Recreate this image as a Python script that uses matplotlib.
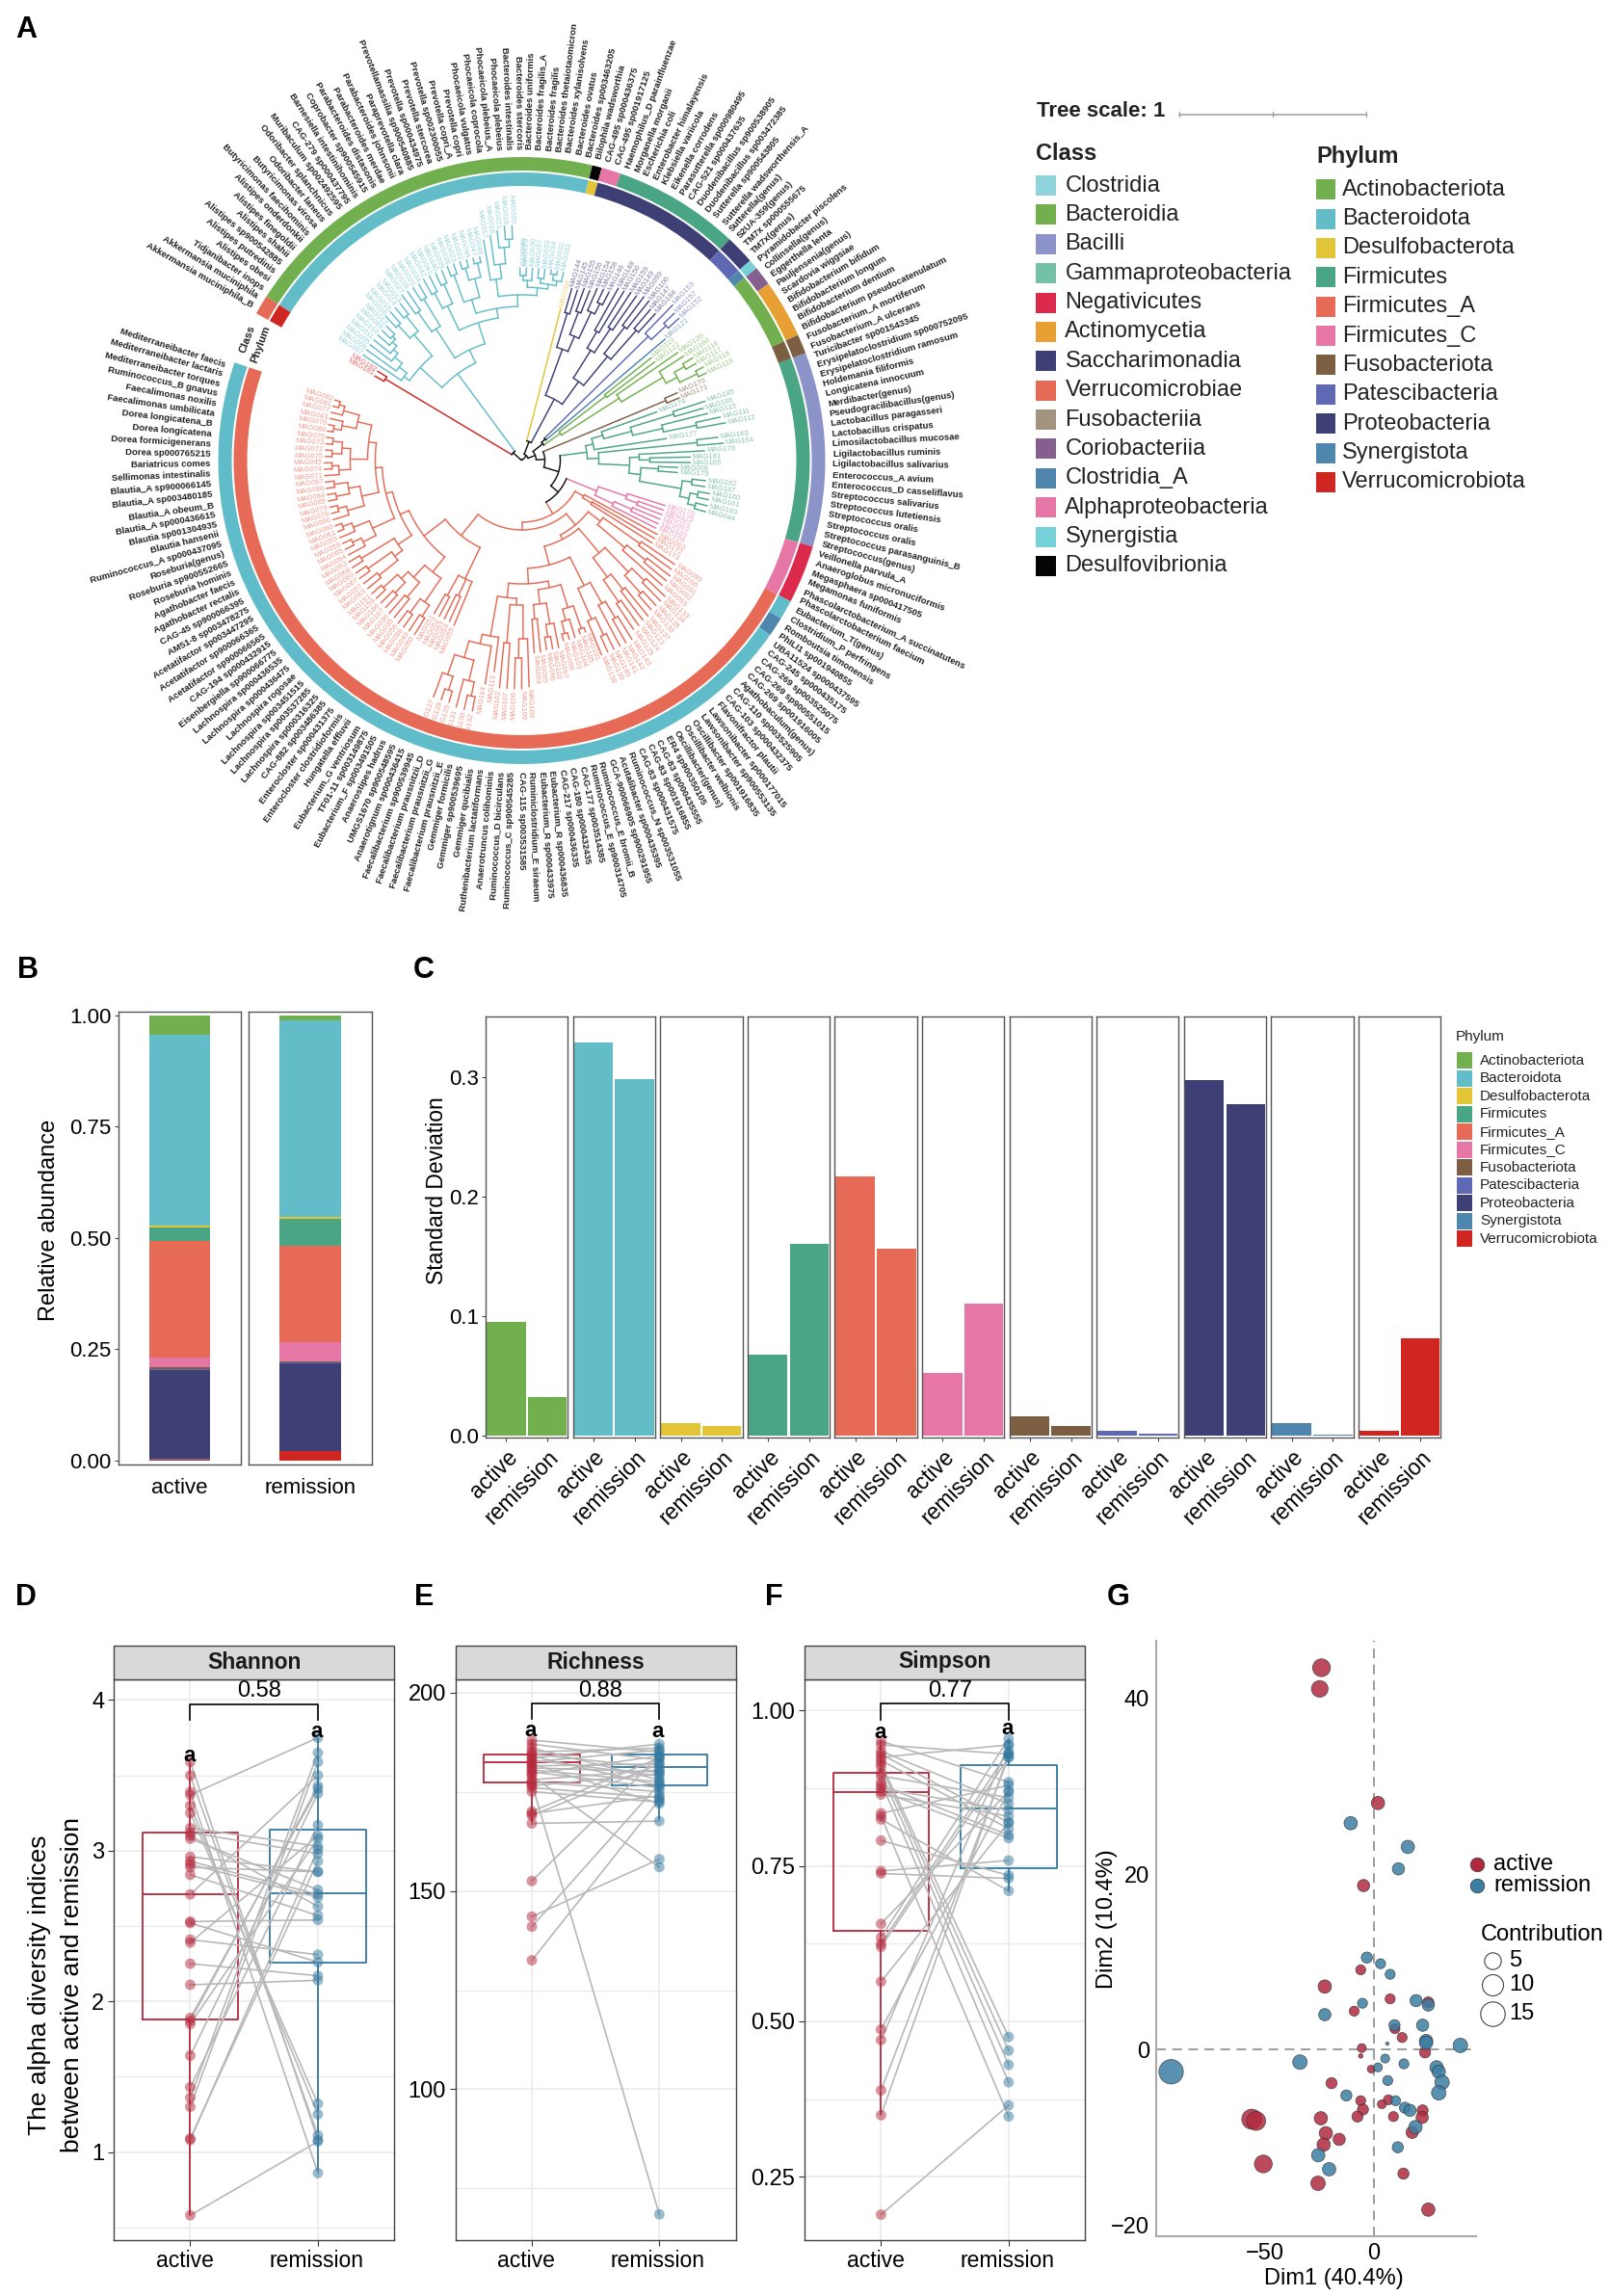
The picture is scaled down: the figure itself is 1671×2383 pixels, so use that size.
import numpy as np
import matplotlib
matplotlib.use("Agg")
import matplotlib.pyplot as plt
from matplotlib.patches import Wedge, Rectangle

plt.rcParams["font.family"] = ["Liberation Sans", "DejaVu Sans"]

W, H = 1671, 2383

# panel A: outer labels, clockwise from the gap
species = """Akkermansia muciniphila_B
Akkermansia muciniphila
Tidjanibacter inops
Alistipes obesi
Alistipes putredinis
Alistipes sp900542885
Alistipes shahii
Alistipes finegoldii
Alistipes onderdonkii
Butyricimonas faecihominis
Butyricimonas virosa
Odoribacter laneus
Odoribacter splanchnicus
Muribaculum sp002492595
CAG-279 sp000437795
Barnesiella intestinihominis
Coprobacter sp900545915
Parabacteroides distasonis
Parabacteroides merdae
Parabacteroides johnsonii
Paraprevotella clara
Prevotellamassilia sp900540885
Prevotella sp000434975
Prevotella stercorea
Prevotella sp002300055
Prevotella copri_A
Prevotella copri
Phocaeicola vulgatus
Phocaeicola coprocola
Phocaeicola plebeius_A
Phocaeicola plebeius
Bacteroides intestinalis
Bacteroides stercoris
Bacteroides uniformis
Bacteroides fragilis_A
Bacteroides fragilis
Bacteroides thetaiotaomicron
Bacteroides xylanisolvens
Bacteroides ovatus
Bacteroides sp003463205
Bilophila wadsworthia
CAG-495 sp000436375
CAG-495 sp001917125
Haemophilus_D parainfluenzae
Morganella morganii
Escherichia coli
Enterobacter himalayensis
Klebsiella variicola
Eikenella corrodens
Parasutterella sp000980495
CAG-521 sp000437635
Duodenibacillus sp900538905
Duodenibacillus sp003472385
Sutterella sp900543805
Sutterella wadsworthensis_A
Sutterella(genus)
S2UA-359(genus)
TM7x sp000555675
TM7x(genus)
Pyramidobacter piscolens
Collinsella(genus)
Eggerthella lenta
Pauljensenia(genus)
Scardovia wiggsiae
Bifidobacterium bifidum
Bifidobacterium longum
Bifidobacterium dentium
Bifidobacterium pseudocatenulatum
Fusobacterium_A mortiferum
Fusobacterium_A ulcerans
Turicibacter sp001543345
Erysipelatoclostridium sp000752095
Erysipelatoclostridium ramosum
Holdemania filiformis
Longicatena innocuum
Merdibacter(genus)
Pseudogracilibacillus(genus)
Lactobacillus paragasseri
Lactobacillus crispatus
Limosilactobacillus mucosae
Ligilactobacillus ruminis
Ligilactobacillus salivarius
Enterococcus_A avium
Enterococcus_D casseliflavus
Streptococcus salivarius
Streptococcus lutetiensis
Streptococcus oralis
Streptococcus oralis
Streptococcus parasanguinis_B
Streptococcus(genus)
Veillonella parvula_A
Anaeroglobus micronuciformis
Megasphaera sp000417505
Megamonas funiformis
Phascolarctobacterium_A succinatutens
Phascolarctobacterium faecium
Eubacterium_T(genus)
Clostridium_P perfringens
Romboutsia timonensis
PhILI1 sp001940855
UBA11524 sp000437595
CAG-245 sp000435175
CAG-269 sp003525075
CAG-269 sp900551015
CAG-269 sp001916005
Agathobaculum(genus)
CAG-110 sp003525905
CAG-103 sp000432375
Flavonifractor plautii
Lawsonibacter sp000177015
Lawsonibacter sp900553135
Oscillibacter sp001916835
Oscillibacter welbionis
Oscillibacter(genus)
ER4 sp900350105
CAG-83 sp000435555
CAG-83 sp001916855
CAG-83 sp000431575
Ruminococcus_N sp003531055
Acutalibacter sp000435395
GCA-900066905 sp900291955
Ruminococcus_E bromii_B
Ruminococcus_E sp900314705
CAG-177 sp003514385
CAG-180 sp000432435
CAG-217 sp000436335
Eubacterium_R sp000436835
Eubacterium_R sp000433975
Ruminiclostridium_E siraeum
CAG-115 sp003531585
Ruminococcus_C sp900545285
Ruminococcus_D bicirculans
Anaerotruncus colihominis
Ruthenibacterium lactatiformans
Gemmiger qucibialis
Gemmiger sp900539695
Gemmiger formicilis
Faecalibacterium prausnitzii_E
Faecalibacterium prausnitzii_G
Faecalibacterium prausnitzii_D
Faecalibacterium sp900539945
Anaerotignum sp000436415
UMGS1670 sp900548595
Anaerostipes hadrus
Eubacterium_F sp003491505
TF01-11 sp003149875
Eubacterium_G ventriosum
Hungatella effluvii
Enterocloster clostridioformis
Enterocloster sp000431375
CAG-882 sp003486385
Lachnospira sp000316325
Lachnospira sp003537285
Lachnospira sp003451515
Lachnospira rogosae
Lachnospira sp000436475
Lachnospira sp000436535
Eisenbergiella sp900066775
CAG-194 sp000432915
Acetatifactor sp900066565
Acetatifactor sp900066365
Acetatifactor sp003447295
AM51-8 sp003478275
CAG-45 sp900066395
Agathobacter rectalis
Agathobacter faecis
Roseburia hominis
Roseburia sp900552665
Roseburia(genus)
Ruminococcus_A sp000437095
Blautia hansenii
Blautia sp001304935
Blautia_A sp000436615
Blautia_A obeum_B
Blautia_A sp003480185
Blautia_A sp900066145
Sellimonas intestinalis
Bariatricus comes
Dorea sp000765215
Dorea formicigenerans
Dorea longicatena
Dorea longicatena_B
Faecalimonas umbilicata
Faecalimonas noxilis
Ruminococcus_B gnavus
Mediterraneibacter torques
Mediterraneibacter lactaris
Mediterraneibacter faecis""".split("\n")

mags = """MAG181 MAG182
MAG007 MAG006 MAG005 MAG011 MAG010 MAG009 MAG012 MAG016 MAG015 MAG014 MAG013
MAG027 MAG026 MAG025 MAG024 MAG042 MAG041 MAG040 MAG039 MAG038 MAG023 MAG022 MAG046 MAG047 MAG048
MAG017 MAG018 MAG021 MAG019 MAG020 MAG029 MAG028 MAG030 MAG037 MAG033 MAG034 MAG032 MAG031
MAG004
MAG144 MAG145 MAG155 MAG156 MAG154 MAG158 MAG146 MAG148 MAG150 MAG159 MAG149 MAG099 MAG100 MAG147 MAG184
MAG153 MAG157 MAG152 MAG121
MAG110 MAG122 MAG120 MAG160 MAG116 MAG117 MAG118 MAG119
MAG170 MAG171
MAG174 MAG185 MAG186 MAG115 MAG111 MAG112 MAG177 MAG163 MAG164 MAG178 MAG181 MAG165 MAG008 MAG179 MAG182 MAG187 MAG160 MAG161 MAG183 MAG044
MAG176 MAG175 MAG001 MAG002 MAG169 MAG168
MAG003 MAG172 MAG173 MAG089 MAG090 MAG091 MAG092 MAG093
MAG133 MAG134 MAG135 MAG136 MAG137 MAG123 MAG124 MAG125 MAG143 MAG142 MAG141 MAG140 MAG139 MAG138
MAG101 MAG105 MAG104 MAG103 MAG098 MAG097 MAG102 MAG096 MAG095 MAG094 MAG108 MAG109 MAG106 MAG107 MAG162
MAG113 MAG114 MAG132 MAG130 MAG131 MAG129 MAG128 MAG127
MAG055 MAG054 MAG053 MAG052 MAG051 MAG050 MAG049 MAG088 MAG056 MAG035 MAG036 MAG167 MAG166 MAG159 MAG151
MAG083 MAG057 MAG067 MAG069 MAG068 MAG063 MAG064 MAG065 MAG058 MAG059 MAG061 MAG060
MAG066 MAG078 MAG079 MAG085 MAG084 MAG086 MAG087
MAG071 MAG074 MAG045 MAG075 MAG072 MAG073 MAG070 MAG080 MAG076 MAG043 MAG077 MAG081 MAG082""".split()

class_names = ["Clostridia", "Bacteroidia", "Bacilli", "Gammaproteobacteria", "Negativicutes",
               "Actinomycetia", "Saccharimonadia", "Verrucomicrobiae", "Fusobacteriia",
               "Coriobacteriia", "Clostridia_A", "Alphaproteobacteria", "Synergistia", "Desulfovibrionia"]
class_legend_colors = ["#8fd3dd", "#72b04f", "#8b93c9", "#74c2a5", "#dc2a4d", "#e8a033", "#3d3f75",
                       "#e66a56", "#a39480", "#85608f", "#4f86ad", "#e676a5", "#76d1d8", "#050505"]
# rings run clockwise: (name, number of leaves)
class_ring = [("#e66a56", 2), ("#72b04f", 38), ("#050505", 1), ("#e676a5", 2), ("#4aa585", 13),
              ("#3d3f75", 3), ("#76d1d8", 1), ("#85608f", 2), ("#e8a033", 6), ("#7c5e43", 2),
              ("#8b93c9", 20), ("#dc2a4d", 6), ("#60bcc8", 2), ("#4f86ad", 2), ("#60bcc8", 88)]

phyla = ["Actinobacteriota", "Bacteroidota", "Desulfobacterota", "Firmicutes", "Firmicutes_A",
         "Firmicutes_C", "Fusobacteriota", "Patescibacteria", "Proteobacteria", "Synergistota",
         "Verrucomicrobiota"]
phylum_colors = ["#72b04f", "#63bdc9", "#e3c638", "#4aa585", "#e66a56", "#e676a5", "#7c5e43",
                 "#5f68b3", "#3d3f75", "#4f86ad", "#d02622"]
phylum_ring = [("#d02622", 2), ("#63bdc9", 38), ("#e3c638", 1), ("#3d3f75", 15), ("#5f68b3", 3),
               ("#4f86ad", 1), ("#72b04f", 8), ("#7c5e43", 2), ("#4aa585", 20), ("#e676a5", 6),
               ("#e66a56", 92)]

# tree: [node radius, child, child...]; a bare number is a leaf with its tip radius
G1 = [150, 198, [160, 198, [170, 198, [176, 198, [182, 198, [186, 198, 198]]]]]]
G2 = [172, [190, 206, 206], [192, 206, 206]]
G3 = [163, [188, 212, 212], [196, 212, 212]]
G4 = [178, [196, 214, 214], [200, 214, 214]]
G5 = [175, [205, 216, 216], [195, [208, 216, 216], [210, 216, 216]]]
G6 = [190, 232, [205, 236, [222, 240, [230, 244, 244]]]]
G7 = [180, [187, [192, 200, 200], 200], [185, [190, 200, 200], [190, [196, 200, 200], 200]]]
bacteroidota = [112, [143, G1, G2], [127, G3, [150, G4, [160, G5, [172, G6, G7]]]]]

P1 = [123, [160, 186, 186], [140, [165, 190, 190], [170, 195, [182, 197, 197]]]]
P2 = [101, [135, [155, 205, 205], [165, 208, 208]], [140, [175, 212, 212], [180, 206, 206]]]
proteobacteria = [72, P1, P2]
patescibacteria = [184, 225, [205, 220, 220]]
actinobacteriota = [49, [110, 172, 172], [120, 197, [170, 200, [183, [195, 207, 207], [203, 212, 212]]]]]
fusobacteriota = [162, 176, 176]
firmicutes = [68,
              [76, [88, 149, [118, [165, 200, 196], [150, 199, [185, 211, 215]]]], 152],
              [80, [183, 205, 210],
               [112, [122, 190, [133, 175, 175]],
                [124, [142, 162, 162], [168, [178, 192, 192], [178, [186, 198, 198], [186, 198, 198]]]]]]]
firmicutes_c = [84, [115, 156, [128, 156, 156]], [105, [125, 156, 156], 156]]

R2A = [103, [150, 192, 192], [140, [165, 195, 195], 195]]
R2B = [125, [160, [178, 205, 205], [185, 205, 205]], [150, [170, 208, 208], [178, 210, 210]]]
R3 = [145, [170, [190, 218, 218], 218], [180, [200, 218, 218], 218]]
B1 = [135, [160, [185, 190, 190], [172, 192, [185, 192, 192]]], [150, [172, 198, [185, 198, 198]], [165, 200, 200]]]
B2 = [150, [185, 235, [205, 237, 237]], [190, 237, 237]]
B4 = [213, [235, [250, 265, 265], 265], [235, [250, 262, 262], 262]]
L1 = [136, 185, [155, 183, 183], [160, 183, 183]]
L2 = [148, [178, [192, 212, 212], [196, 212, 212]], [165, [185, 210, 210], [175, [190, 208, 208], [195, 208, 208]]]]
L3 = [165, [190, 208, 208], [195, 208, 208]]
L4 = [195, 208, 208]
L5 = [170, [185, 205, [195, 205, 205]], [188, 205, [198, 205, 205]]]
L6 = [170, [188, 205, [197, 205, 205]], [182, [196, 205, 205], [196, 205, 205]]]
L7 = [160, [178, [190, 205, [197, 205, 205]], [187, [197, 204, 204], [197, 204, 204]]],
      [175, [190, [198, 204, 204], 204], [192, 204, [198, 204, 204]]]]
firmicutes_a = [64, [74, 160, [85, 160, 160]],
                [72, [87, R2A, [92, R2B, [112, R3, [128, B1, [143, B2, [185, 221, [195, 235, B4]]]]]]],
                 [76, [100, L1, [128, L2, [138, [155, L3, L4], [145, L5, [152, L6, L7]]]]]]]]

tree = [1,
        [12, ("#d02622", [165, 176, 176]), ("#63bdc9", bacteroidota)],
        [7,
         [21, ("#e3c638", 163), ("#3d3f75", proteobacteria)],
         [15,
          [28, [33, ("#5f68b3", patescibacteria), ("#4f86ad", 195)], ("#72b04f", actinobacteriota)],
          [24, ("#7c5e43", fusobacteriota),
           [40, ("#4aa585", firmicutes), [50, ("#e676a5", firmicutes_c), ("#e66a56", firmicutes_a)]]]]]]

# panel B
groups = ["active", "remission"]
abund_active = [0.043, 0.430, 0.004, 0.031, 0.261, 0.022, 0.004, 0.003, 0.199, 0.001, 0.002]
abund_remission = [0.012, 0.441, 0.005, 0.061, 0.215, 0.043, 0.003, 0.001, 0.198, 0.000, 0.021]

# panel C
sd_active = [0.095, 0.329, 0.0105, 0.0675, 0.217, 0.052, 0.016, 0.004, 0.297, 0.010, 0.0036]
sd_remission = [0.032, 0.298, 0.0075, 0.160, 0.156, 0.110, 0.008, 0.0016, 0.277, 0.0003, 0.081]

# panels D, E, F: paired samples
shannon_a = [3.59, 3.50, 3.39, 3.37, 3.30, 3.25, 3.15, 3.12, 3.10, 3.08, 2.96, 2.93, 2.91, 2.89, 2.84, 2.71,
             2.53, 2.52, 2.41, 2.39, 2.25, 2.11, 1.89, 1.87, 1.85, 1.64, 1.43, 1.36, 1.30, 1.09, 1.08, 0.58]
shannon_r = [1.08, 1.11, 0.86, 3.75, 1.25, 1.32, 3.03, 2.98, 2.63, 2.74, 2.86, 2.71, 2.69, 2.86, 2.57, 3.50,
             2.54, 2.26, 2.31, 3.10, 2.17, 2.14, 3.41, 3.43, 3.08, 3.38, 3.17, 3.65, 3.59, 2.93, 3.01, 1.07]
richness_a = [188, 187, 186, 185, 184.5, 184, 183.5, 183, 182.5, 182, 181.5, 181, 180.5, 180, 179.5, 179,
              178, 177.5, 177, 176.5, 176, 175, 170, 169.5, 169, 167, 152.5, 143.5, 141, 132.5]
richness_r = [185, 183, 178, 186, 181, 176.5, 187, 179, 185.5, 172, 182, 180, 177.5, 176, 184, 156,
              180.5, 175, 68.5, 179.5, 173.5, 172.4, 183.5, 174, 182, 167.6, 184, 158, 177, 173]
simpson_a = [0.951, 0.945, 0.935, 0.930, 0.925, 0.920, 0.915, 0.910, 0.900, 0.895, 0.885, 0.880, 0.875, 0.870,
             0.865, 0.835, 0.830, 0.825, 0.791, 0.742, 0.738, 0.657, 0.635, 0.625, 0.620, 0.564, 0.487, 0.470,
             0.389, 0.349, 0.189]
simpson_r = [0.885, 0.930, 0.850, 0.820, 0.945, 0.810, 0.475, 0.453, 0.430, 0.860, 0.402, 0.800, 0.840, 0.795,
             0.830, 0.880, 0.347, 0.710, 0.735, 0.759, 0.730, 0.870, 0.955, 0.935, 0.925, 0.820, 0.870, 0.945,
             0.925, 0.930, 0.365]

# q1, median, q3, low whisker, high whisker
box_shannon = [(1.88, 2.71, 3.12, 0.58, 3.59), (2.26, 2.72, 3.14, 0.86, 3.75)]
box_richness = [(177.3, 182.4, 184.3, 167, 188), (176.7, 181.1, 184.4, 168, 187)]
box_simpson = [(0.645, 0.869, 0.900, 0.349, 0.951), (0.747, 0.842, 0.912, 0.710, 0.955)]

# panel G: dim1, dim2, contribution
pca_a_x = [-24.1, -24.9, 1.8, -4.8, -6.1, -22.6, 7.4, 24.9, -9.1, 9.6, 12.9, -5.6, -6.1, 23.4, -1.3, -19.5, -6.1,
           6.6, 3.6, -5.1, -7.6, 8.9, 22.3, 22.1, -24.4, -56.1, -54.1, -22.1, 17.5, -16.0, -23.1, -50.8, 13.5,
           -25.7, 24.9]
pca_a_y = [43.5, 41.1, 28.1, 18.7, 9.1, 7.2, 5.8, 5.4, 4.4, 2.4, 1.4, 0.2, -0.7, -0.3, -2.2, -3.8, -5.8, -5.7,
           -6.2, -6.8, -7.6, -7.6, -6.9, -7.7, -7.8, -7.9, -8.1, -9.5, -9.4, -10.2, -10.8, -13.0, -14.1, -15.2,
           -18.2]
pca_a_c = [16, 15, 12, 11, 9, 12, 9, 10, 9, 9, 9, 8, 4, 10, 7, 10, 9, 9, 8, 10, 10, 9, 10, 11, 12, 18, 17, 12, 11,
           11, 12, 16, 10, 13, 12]
pca_r_x = [-10.7, 15.5, 11.2, -3.3, 3.0, 7.4, 19.3, 24.9, -5.3, -22.6, 9.4, 22.3, 23.9, 23.9, 39.6, 6.1, 5.1, -34.0,
           13.7, 1.8, 28.7, 29.7, 31.2, -93.1, 6.3, 29.7, -12.7, 9.9, 14.2, 16.5, 19.0, 10.9, -25.6, -20.6]
pca_r_y = [25.8, 23.1, 20.6, 10.5, 9.8, 8.6, 5.6, 5.1, 5.3, 4.0, 2.8, 2.8, 1.0, 0.8, 0.5, 0.7, -1.0, -1.4, -1.6, -2.0,
           -2.0, -2.5, -3.7, -2.5, -3.5, -4.9, -5.2, -5.8, -6.6, -6.9, -8.8, -11.1, -12.0, -13.6]
pca_r_c = [12, 12, 11, 10, 9, 9, 11, 11, 9, 11, 10, 11, 12, 12, 13, 3, 8, 13, 9, 8, 12, 12, 13, 22, 9, 13, 10, 9, 10,
           11, 12, 10, 12, 12]

red = "#b5283c"
blue = "#34789f"
fig = plt.figure(figsize=(W / 100, H / 100), dpi=100, facecolor="white")


def box(l, t, r, b):
    return fig.add_axes([l / W, 1 - b / H, (r - l) / W, (b - t) / H])


# overlay in pixel coordinates (y measured up) for tree, legends and letters
pix = fig.add_axes([0, 0, 1, 1], zorder=5)
pix.set_xlim(0, W)
pix.set_ylim(0, H)
pix.axis("off")
pix.patch.set_alpha(0)


def Y(y):
    return H - y


# ---- panel A ----
cx, cy = 541.5, Y(478)
start, step = 151.0, 1.861


def leaf_angle(i):
    return start - step * (i + 0.5)


def polar(r, a):
    return cx + r * np.cos(np.radians(a)), cy + r * np.sin(np.radians(a))


def draw_ring(segments, r_out, width):
    n = 0
    for color, count in segments:
        a1 = start - step * n
        a2 = start - step * (n + count)
        pix.add_patch(Wedge((cx, cy), r_out, a2, a1, width=width, facecolor=color, edgecolor="none"))
        n += count


draw_ring(class_ring, 315, 14)
draw_ring(phylum_ring, 299, 14)

for i, name in enumerate(species):
    a = leaf_angle(i)
    x, y = polar(323, a)
    left = np.cos(np.radians(a)) < 0
    pix.text(x, y, name, rotation=a + 180 if left else a, ha="right" if left else "left", va="center",
             rotation_mode="anchor", fontsize=6.8, fontweight="bold", color="#222222")

counter = [0]
assert len(mags) == len(species), (len(mags), len(species))


def draw_tree(node, color):
    # returns the angle of this node, drawing everything below it
    if isinstance(node, tuple):
        color = node[0]
        node = node[1]
    if not isinstance(node, list):
        i = counter[0]
        counter[0] += 1
        a = leaf_angle(i)
        x, y = polar(node + 2, a)
        left = np.cos(np.radians(a)) < 0
        pix.text(x, y, mags[i], rotation=a + 180 if left else a, ha="right" if left else "left", va="center",
                 rotation_mode="anchor", fontsize=5.5, color=color, alpha=0.65)
        return a, node, color
    r = node[0]
    kids = [draw_tree(k, color) for k in node[1:]]
    angles = [k[0] for k in kids]
    for ka, kr, kc in kids:
        x0, y0 = polar(r, ka)
        x1, y1 = polar(kr, ka)
        pix.plot([x0, x1], [y0, y1], color=kc, lw=1.05, solid_capstyle="round")
    t = np.linspace(angles[0], angles[-1], 40)
    xs, ys = polar(r, t)
    pix.plot(xs, ys, color=color, lw=1.05)
    return (angles[0] + angles[-1]) / 2, r, color


draw_tree(tree, "#111111")

pix.text(257, Y(352), "Class", rotation=70, ha="center", va="center", fontsize=8, fontweight="bold", color="#222222")
pix.text(270, Y(357), "Phylum", rotation=70, ha="center", va="center", fontsize=8, fontweight="bold", color="#222222")

pix.text(1075.7, Y(115.5), "Tree scale: 1", fontsize=16, fontweight="bold", va="center", color="#222222")
pix.plot([1223.5, 1418], [Y(118.6), Y(118.6)], color="#b5b5b5", lw=1.5)
for tx in [1223.5, 1321, 1418]:
    pix.plot([tx, tx], [Y(116), Y(121)], color="#999999", lw=0.8)

pix.text(1075.5, Y(160), "Class", fontsize=17, fontweight="bold", va="center", color="#222222")
for i, (name, color) in enumerate(zip(class_names, class_legend_colors)):
    yc = Y(192.6 + 30.37 * i)
    pix.add_patch(Rectangle((1075.3, yc - 10.5), 20.7, 21, facecolor=color, edgecolor="none"))
    pix.text(1105.4, yc, name, fontsize=17, va="center", color="#222222")

pix.text(1366, Y(163), "Phylum", fontsize=17, fontweight="bold", va="center", color="#222222")
for i, (name, color) in enumerate(zip(phyla, phylum_colors)):
    yc = Y(196.7 + 30.37 * i)
    pix.add_patch(Rectangle((1365.6, yc - 10.5), 20.7, 21, facecolor=color, edgecolor="none"))
    pix.text(1393, yc, name, fontsize=17, va="center", color="#222222")

# panel letters
for letter, lx, ly in [("A", 27, 31), ("B", 29, 1007), ("C", 440, 1007), ("D", 27, 1658),
                       ("E", 440, 1658), ("F", 803, 1658), ("G", 1161, 1658)]:
    pix.text(lx, Y(ly), letter, fontsize=22, fontweight="bold", ha="center", va="center")

# ---- panel B ----
for j, (vals, (l, r)) in enumerate(zip([abund_active, abund_remission], [(122.6, 250.4), (257.9, 385.8)])):
    ax = box(l, 1050.4, r, 1519.8)
    bottom = 0
    for v, color in zip(vals[::-1], phylum_colors[::-1]):
        ax.bar(0, v, 0.5, bottom=bottom, color=color, edgecolor="none")
        bottom += v
    ax.set_xlim(-0.5, 0.5)
    ax.set_ylim(-0.0088, 1.007)
    ax.set_xticks([0])
    ax.set_xticklabels([groups[j]], fontsize=16)
    ax.tick_params(axis="x", length=0, pad=10)
    if j == 0:
        ax.set_yticks([0, 0.25, 0.5, 0.75, 1])
        ax.set_yticklabels(["0.00", "0.25", "0.50", "0.75", "1.00"], fontsize=16)
        ax.tick_params(axis="y", length=3, pad=2, color="#444444")
    else:
        ax.set_yticks([])
    for s in ax.spines.values():
        s.set_color("#555555")
        s.set_linewidth(1)
pix.text(51, Y(1266), "Relative abundance", rotation=90, fontsize=17, ha="center", va="center")

# ---- panel C ----
for j in range(len(phyla)):
    l = 504 + 90.6 * j
    ax = box(l, 1054.5, l + 85.3, 1492.4)
    ax.bar([1, 2], [sd_active[j], sd_remission[j]], 0.95, color=phylum_colors[j], edgecolor="none")
    ax.set_xlim(0.5, 2.5)
    ax.set_ylim(-0.0023, 0.351)
    ax.set_xticks([1, 2])
    ax.set_xticklabels(groups, fontsize=16.5, rotation=45, ha="right", rotation_mode="anchor")
    ax.tick_params(axis="x", length=3, pad=3, color="#444444")
    if j == 0:
        ax.set_yticks([0, 0.1, 0.2, 0.3])
        ax.tick_params(axis="y", labelsize=16, length=3, pad=2, color="#444444")
    else:
        ax.set_yticks([])
    for s in ax.spines.values():
        s.set_color("#555555")
        s.set_linewidth(1)
pix.text(453, Y(1236), "Standard Deviation", rotation=90, fontsize=16.5, ha="center", va="center")

pix.text(1511, Y(1076), "Phylum", fontsize=11, va="center", color="#222222")
for i, (name, color) in enumerate(zip(phyla, phylum_colors)):
    yc = Y(1100.6 + 18.53 * i)
    pix.add_patch(Rectangle((1512, yc - 8.5), 16, 17, facecolor=color, edgecolor="none"))
    pix.text(1536, yc, name, fontsize=11, va="center", color="#222222")


# ---- panels D, E, F ----
def paired_panel(rect, title, a_vals, r_vals, stats, ylim, major, minor, ticklabels, bracket, pvalue, a_marks):
    l, r = rect
    ax = box(l, 1742.6, r, 2325)
    ax.set_xlim(0.4, 2.6)
    ax.set_ylim(*ylim)
    ax.set_yticks(major)
    ax.set_yticklabels(ticklabels, fontsize=17)
    ax.set_yticks(minor, minor=True)
    ax.set_xticks([1, 2])
    ax.set_xticklabels([])
    ax.tick_params(axis="both", which="major", length=4, color="#333333", pad=3)
    ax.tick_params(axis="y", which="minor", length=0)
    ax.grid(True, which="major", color="#ebebeb", lw=1.2)
    ax.grid(True, which="minor", axis="y", color="#ebebeb", lw=1)
    ax.set_axisbelow(True)
    for s in ax.spines.values():
        s.set_color("#444444")
        s.set_linewidth(1)
    for pos, st, color in zip([1, 2], stats, [red, blue]):
        q1, med, q3, lo, hi = st
        ax.bxp([dict(med=med, q1=q1, q3=q3, whislo=lo, whishi=hi, fliers=[])], positions=[pos], widths=0.75,
               showcaps=False, showfliers=False, manage_ticks=False,
               boxprops=dict(color=color, lw=1.3), medianprops=dict(color=color, lw=1.3),
               whiskerprops=dict(color=color, lw=1.3))
    for va, vr in zip(a_vals, r_vals):
        ax.plot([1, 2], [va, vr], color="#b8b8b8", lw=1.2, zorder=3)
    ax.scatter([1] * len(a_vals), a_vals, s=62, color=red, alpha=0.5, edgecolor="none", zorder=4)
    ax.scatter([2] * len(r_vals), r_vals, s=62, color=blue, alpha=0.5, edgecolor="none", zorder=4)
    y0, y1, yt = bracket
    ax.plot([1, 1, 2, 2], [y0, y1, y1, y0], color="black", lw=1.2, zorder=5)
    ax.text(1.54, yt, pvalue, fontsize=17, ha="center", va="center")
    for px_, py_ in a_marks:
        ax.text(px_, py_, "a", fontsize=16, fontweight="bold", ha="center", va="center", zorder=6)
    for px_, name in [(0.955, "active"), (1.99, "remission")]:
        ax.annotate(name, (px_, 0), xycoords=ax.get_xaxis_transform(), xytext=(0, -15.5),
                    textcoords="offset points", ha="center", va="center", fontsize=16.5)
    pix.add_patch(Rectangle((l, Y(1742.6)), r - l, 35, facecolor="#d9d9d9", edgecolor="#444444", lw=1))
    pix.text((l + r) / 2, Y(1725), title, fontsize=16.5, fontweight="bold", ha="center", va="center",
             color="#1a1a1a")
    return ax


paired_panel((118, 409.4), "Shannon", shannon_a, shannon_r, box_shannon, (0.415, 4.14), [1, 2, 3, 4],
             [0.5, 1.5, 2.5, 3.5], ["1", "2", "3", "4"], (3.87, 3.97, 4.06), "0.58",
             [(0.99, 3.63), (1.99, 3.79)])
paired_panel((472.6, 763.7), "Richness", richness_a, richness_r, box_richness, (62, 203.4), [100, 150, 200],
             [75, 125, 175], ["100", "150", "200"], (193.3, 197.2, 200.5), "0.88",
             [(0.99, 190.4), (1.99, 190)])
paired_panel((835, 1126.3), "Simpson", simpson_a, simpson_r, box_simpson, (0.148, 1.051), [0.25, 0.5, 0.75, 1],
             [0.375, 0.625, 0.875], ["0.25", "0.50", "0.75", "1.00"], (0.986, 1.011, 1.032), "0.77",
             [(0.99, 0.965), (1.99, 0.97)])

pix.text(41, Y(2060), "The alpha diversity indices", rotation=90, fontsize=19, ha="center", va="center")
pix.text(75, Y(2060), "between active and remission", rotation=90, fontsize=19, ha="center", va="center")

# ---- panel G ----
ax = box(1199.9, 1702.7, 1531.5, 2320.7)
ax.axhline(0, color="#8c8c8c", ls=(0, (6, 4)), lw=1.2, zorder=1)
ax.axvline(0, color="#8c8c8c", ls=(0, (6, 4)), lw=1.2, zorder=1)
ax.scatter(pca_a_x, pca_a_y, s=0.69 * np.array(pca_a_c) ** 2, color="#b02a3f", alpha=0.85, edgecolor="#333333",
           linewidth=0.5, zorder=3)
ax.scatter(pca_r_x, pca_r_y, s=0.69 * np.array(pca_r_c) ** 2, color="#3c7ea3", alpha=0.85, edgecolor="#333333",
           linewidth=0.5, zorder=3)
ax.set_xlim(-100, 46.6)
ax.set_ylim(-21.2, 46.6)
ax.set_xticks([-50, 0])
ax.set_yticks([-20, 0, 20, 40])
ax.tick_params(labelsize=17, length=0, pad=5)
ax.spines["top"].set_visible(False)
ax.spines["right"].set_visible(False)
ax.spines["left"].set_color("#aaaaaa")
ax.spines["bottom"].set_color("#aaaaaa")
ax.spines["left"].set_linewidth(1.5)
ax.spines["bottom"].set_linewidth(1.5)
pix.text(1384, Y(2364.5), "Dim1 (40.4%)", fontsize=17, ha="center", va="center")
pix.text(1149, Y(1992), "Dim2 (10.4%)", fontsize=17, rotation=90, ha="center", va="center")

pix.scatter([1533], [Y(1935)], s=110, color="#b02a3f", edgecolor="#333333", linewidth=0.5)
pix.scatter([1533], [Y(1957)], s=110, color="#3c7ea3", edgecolor="#333333", linewidth=0.5)
pix.text(1550, Y(1935), "active", fontsize=17, va="center")
pix.text(1550, Y(1957), "remission", fontsize=17, va="center")
pix.text(1537, Y(2008), "Contribution", fontsize=17, va="center")
for size, ly, d in [("5", 2034.6, 12.5), ("10", 2060, 15.8), ("15", 2089.6, 18.3)]:
    pix.scatter([1549], [Y(ly)], s=d ** 2, facecolor="white", edgecolor="#444444", linewidth=0.8)
    pix.text(1566, Y(ly), size, fontsize=17, va="center")

plt.savefig("out.png", dpi=100, facecolor="white")
